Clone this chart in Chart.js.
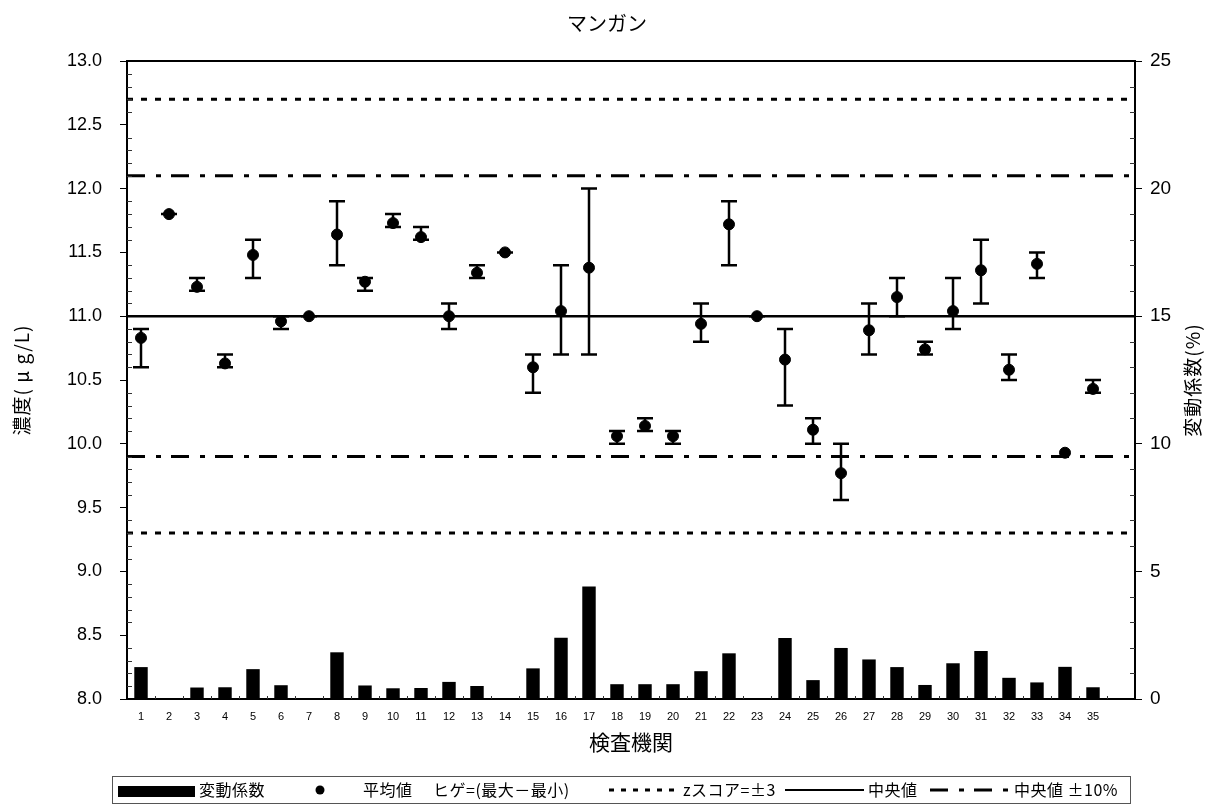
<!DOCTYPE html>
<html lang="ja">
<head>
<meta charset="utf-8">
<title>マンガン</title>
<script src="https://cdn.jsdelivr.net/npm/chart.js@4.4.1/dist/chart.umd.min.js"></script>
<style>
  html, body { margin: 0; padding: 0; background: #fff; }
  #wrap { position: relative; width: 1214px; height: 805px; }
</style>
</head>
<body>
<div id="wrap"><canvas id="c" width="1214" height="805"></canvas></div>
<script>
// 検査機関番号 (36番目は右端の空き区間)
const labs = ['1','2','3','4','5','6','7','8','9','10','11','12','13','14','15','16','17','18','19','20',
              '21','22','23','24','25','26','27','28','29','30','31','32','33','34','35',''];

// 平均値 (μg/L)
const meanValues = [10.83, 11.80, 11.23, 10.63, 11.48, 10.96, 11.00, 11.64, 11.27, 11.73,
                    11.62, 11.00, 11.34, 11.50, 10.60, 11.04, 11.38, 10.06, 10.14, 10.06,
                    10.94, 11.72, 11.00, 10.66, 10.11, 9.77, 10.89, 11.15, 10.74, 11.04,
                    11.36, 10.58, 11.41, 9.93, 10.43];

// 最大値・最小値 (ヒゲ)
const maxValues = [10.9, 11.8, 11.3, 10.7, 11.6, 11.0, 11.0, 11.9, 11.3, 11.8,
                   11.7, 11.1, 11.4, 11.5, 10.7, 11.4, 12.0, 10.1, 10.2, 10.1,
                   11.1, 11.9, 11.0, 10.9, 10.2, 10.0, 11.1, 11.3, 10.8, 11.3,
                   11.6, 10.7, 11.5, null, 10.5];
const minValues = [10.6, 11.8, 11.2, 10.6, 11.3, 10.9, 11.0, 11.4, 11.2, 11.7,
                   11.6, 10.9, 11.3, 11.5, 10.4, 10.7, 10.7, 10.0, 10.1, 10.0,
                   10.8, 11.4, 11.0, 10.3, 10.0, 9.56, 10.7, 11.0, 10.7, 10.9,
                   11.1, 10.5, 11.3, null, 10.4];

// 変動係数 (%)
const cvValues = [1.25, 0, 0.45, 0.46, 1.17, 0.54, 0, 1.83, 0.53, 0.42,
                  0.43, 0.67, 0.51, 0, 1.20, 2.40, 4.41, 0.58, 0.58, 0.58,
                  1.09, 1.79, 0, 2.39, 0.74, 2.00, 1.55, 1.25, 0.55, 1.40,
                  1.88, 0.83, 0.65, 1.26, 0.46];

// 基準線
const medianValue = 11.0;
const zScoreLimits = [12.7, 9.3];
const tenPercentLimits = [12.1, 9.9];

// 軸目盛
const concTicks = { min: 8.0, max: 13.0, step: 0.5, minor: 0.1 };
const cvTicks = { min: 0, max: 25, step: 5, minor: 1 };

const JP = '"Noto Sans CJK JP", "Noto Sans", sans-serif';
const NUM = '"Liberation Sans", Arial, sans-serif';

const DASH_Z = [6, 8];
const DASH_TEN = [18, 11, 5, 10];

// 基準線・枠・補助目盛・ヒゲ・タイトル・凡例の描画
const decorPlugin = {
  id: 'decor',
  beforeDatasetsDraw(chart) {
    const { ctx, chartArea: a, scales } = chart;
    const y = scales.y;
    ctx.save();
    ctx.strokeStyle = '#000';
    const hline = (v, w, dash) => {
      const py = y.getPixelForValue(v);
      ctx.lineWidth = w;
      ctx.setLineDash(dash);
      ctx.beginPath();
      ctx.moveTo(a.left, py);
      ctx.lineTo(a.right, py);
      ctx.stroke();
    };
    zScoreLimits.forEach(v => hline(v, 3, DASH_Z));
    tenPercentLimits.forEach(v => hline(v, 3, DASH_TEN));
    hline(medianValue, 2.5, []);
    ctx.restore();
  },
  afterDatasetsDraw(chart) {
    const { ctx, chartArea: a, scales } = chart;
    const x = scales.x, y = scales.y, y2 = scales.y2;
    ctx.save();
    ctx.strokeStyle = '#000';
    ctx.setLineDash([]);

    // ヒゲ (最大－最小)
    ctx.lineWidth = 2.5;
    const cap = 8;
    meanValues.forEach((m, i) => {
      if (maxValues[i] == null || minValues[i] == null) return;
      const px = x.getPixelForValue(i);
      const pTop = y.getPixelForValue(maxValues[i]);
      const pBot = y.getPixelForValue(minValues[i]);
      ctx.beginPath();
      ctx.moveTo(px, pTop); ctx.lineTo(px, pBot);
      ctx.moveTo(px - cap, pTop); ctx.lineTo(px + cap, pTop);
      ctx.moveTo(px - cap, pBot); ctx.lineTo(px + cap, pBot);
      ctx.stroke();
    });

    // 上枠
    ctx.lineWidth = 2;
    ctx.beginPath();
    ctx.moveTo(a.left - 1, a.top);
    ctx.lineTo(a.right + 1, a.top);
    ctx.stroke();

    // 補助目盛 (内向き)
    ctx.lineWidth = 1;
    ctx.strokeStyle = '#333';
    const nL = Math.round((concTicks.max - concTicks.min) / concTicks.minor);
    for (let k = 1; k < nL; k++) {
      if (k % 5 === 0) continue;
      const py = Math.round(y.getPixelForValue(concTicks.min + k * concTicks.minor)) + 0.5;
      ctx.beginPath(); ctx.moveTo(a.left, py); ctx.lineTo(a.left + 5, py); ctx.stroke();
    }
    const nR = Math.round((cvTicks.max - cvTicks.min) / cvTicks.minor);
    for (let k = 1; k < nR; k++) {
      if (k % 5 === 0) continue;
      const py = Math.round(y2.getPixelForValue(cvTicks.min + k * cvTicks.minor)) + 0.5;
      ctx.beginPath(); ctx.moveTo(a.right - 5, py); ctx.lineTo(a.right, py); ctx.stroke();
    }
    // 横軸の区切り目盛 (内向き)
    for (let i = 0; i < labs.length - 1; i++) {
      const bx = Math.round((x.getPixelForValue(i) + x.getPixelForValue(i + 1)) / 2) + 0.5;
      ctx.beginPath(); ctx.moveTo(bx, a.bottom); ctx.lineTo(bx, a.bottom - 3); ctx.stroke();
    }
    ctx.restore();
  },
  afterDraw(chart) {
    const { ctx, chartArea: a } = chart;
    ctx.save();
    ctx.fillStyle = '#000';
    ctx.textAlign = 'center';
    ctx.textBaseline = 'middle';

    // タイトル
    ctx.font = '20px ' + JP;
    ctx.fillText('マンガン', 607, 23);

    // 横軸タイトル
    ctx.font = '21px ' + JP;
    ctx.fillText('検査機関', (a.left + a.right) / 2, 742);

    // 縦軸タイトル
    const midY = (a.top + a.bottom) / 2;
    ctx.font = '19px ' + JP;
    ctx.letterSpacing = '1px';
    ctx.save();
    ctx.translate(22, midY);
    ctx.rotate(-Math.PI / 2);
    ctx.fillText('濃度( μ g/L)', 0, 0);
    ctx.restore();
    ctx.save();
    ctx.translate(1193, midY);
    ctx.rotate(-Math.PI / 2);
    ctx.fillText('変動係数(%)', 0, 0);
    ctx.restore();
    ctx.letterSpacing = '0px';

    // 凡例
    const lx = 112, ly = 776, lw = 1018, lh = 27, cy = ly + lh / 2 + 0.5;
    ctx.strokeStyle = '#555';
    ctx.lineWidth = 1;
    ctx.strokeRect(lx + 0.5, ly + 0.5, lw, lh);

    ctx.fillStyle = '#000';
    ctx.fillRect(118, 786, 77, 11);

    ctx.beginPath();
    ctx.arc(320, cy, 4.5, 0, Math.PI * 2);
    ctx.fill();

    ctx.strokeStyle = '#000';
    const legLine = (x0, x1, w, dash) => {
      ctx.lineWidth = w;
      ctx.setLineDash(dash);
      ctx.beginPath();
      ctx.moveTo(x0, cy); ctx.lineTo(x1, cy);
      ctx.stroke();
    };
    legLine(609, 678, 3, [5, 7]);
    legLine(785, 864, 2, []);
    legLine(930, 1010, 3, [18, 11, 5, 10]);
    ctx.setLineDash([]);

    ctx.font = '16px ' + JP;
    ctx.letterSpacing = '0.5px';
    ctx.textAlign = 'left';
    ctx.fillText('変動係数', 199, cy);
    ctx.fillText('平均値', 363, cy);
    ctx.fillText('ヒゲ=(最大－最小)', 433, cy);
    ctx.fillText('zスコア=±3', 683, cy);
    ctx.fillText('中央値', 868, cy);
    ctx.fillText('中央値 ±10%', 1014, cy);
    ctx.restore();
  }
};

const ctx = document.getElementById('c').getContext('2d');
new Chart(ctx, {
  data: {
    labels: labs,
    datasets: [
      {
        type: 'line',
        label: '平均値',
        data: meanValues,
        yAxisID: 'y',
        showLine: false,
        pointRadius: 5.5,
        pointHoverRadius: 5.5,
        pointBackgroundColor: '#000',
        pointBorderColor: '#000',
        borderColor: '#000',
        order: 0
      },
      {
        type: 'bar',
        label: '変動係数',
        data: cvValues,
        yAxisID: 'y2',
        backgroundColor: '#000',
        borderWidth: 0,
        barPercentage: 0.48,
        categoryPercentage: 1.0,
        order: 1
      }
    ]
  },
  options: {
    responsive: false,
    animation: false,
    events: [],
    layout: { padding: { top: 61, bottom: 66, left: 0, right: 0 } },
    plugins: {
      legend: { display: false },
      title: { display: false },
      tooltip: { enabled: false }
    },
    scales: {
      x: {
        type: 'category',
        offset: true,
        grid: { display: true, drawOnChartArea: false, drawTicks: false, offset: true, color: 'rgba(0,0,0,0)' },
        border: { display: true, color: '#000', width: 2 },
        ticks: {
          color: '#000',
          font: { family: NUM, size: 11 },
          padding: 11,
          maxRotation: 0,
          autoSkip: false
        },
        afterFit(s) { s.height = 40; }
      },
      y: {
        position: 'left',
        min: concTicks.min,
        max: concTicks.max,
        grid: { drawOnChartArea: false, drawTicks: true, tickLength: 7, color: '#000', lineWidth: 1 },
        border: { display: true, color: '#000', width: 2 },
        ticks: {
          stepSize: concTicks.step,
          color: '#000',
          font: { family: NUM, size: 18 },
          padding: 18,
          callback: v => Number(v).toFixed(1)
        },
        afterFit(s) { s.width = 127; }
      },
      y2: {
        position: 'right',
        min: cvTicks.min,
        max: cvTicks.max,
        grid: { drawOnChartArea: false, drawTicks: true, tickLength: 7, color: '#000', lineWidth: 1 },
        border: { display: true, color: '#000', width: 2 },
        ticks: {
          stepSize: cvTicks.step,
          color: '#000',
          font: { family: NUM, size: 19 },
          padding: 8
        },
        afterFit(s) { s.width = 79; }
      }
    }
  },
  plugins: [decorPlugin]
});
</script>
</body>
</html>
